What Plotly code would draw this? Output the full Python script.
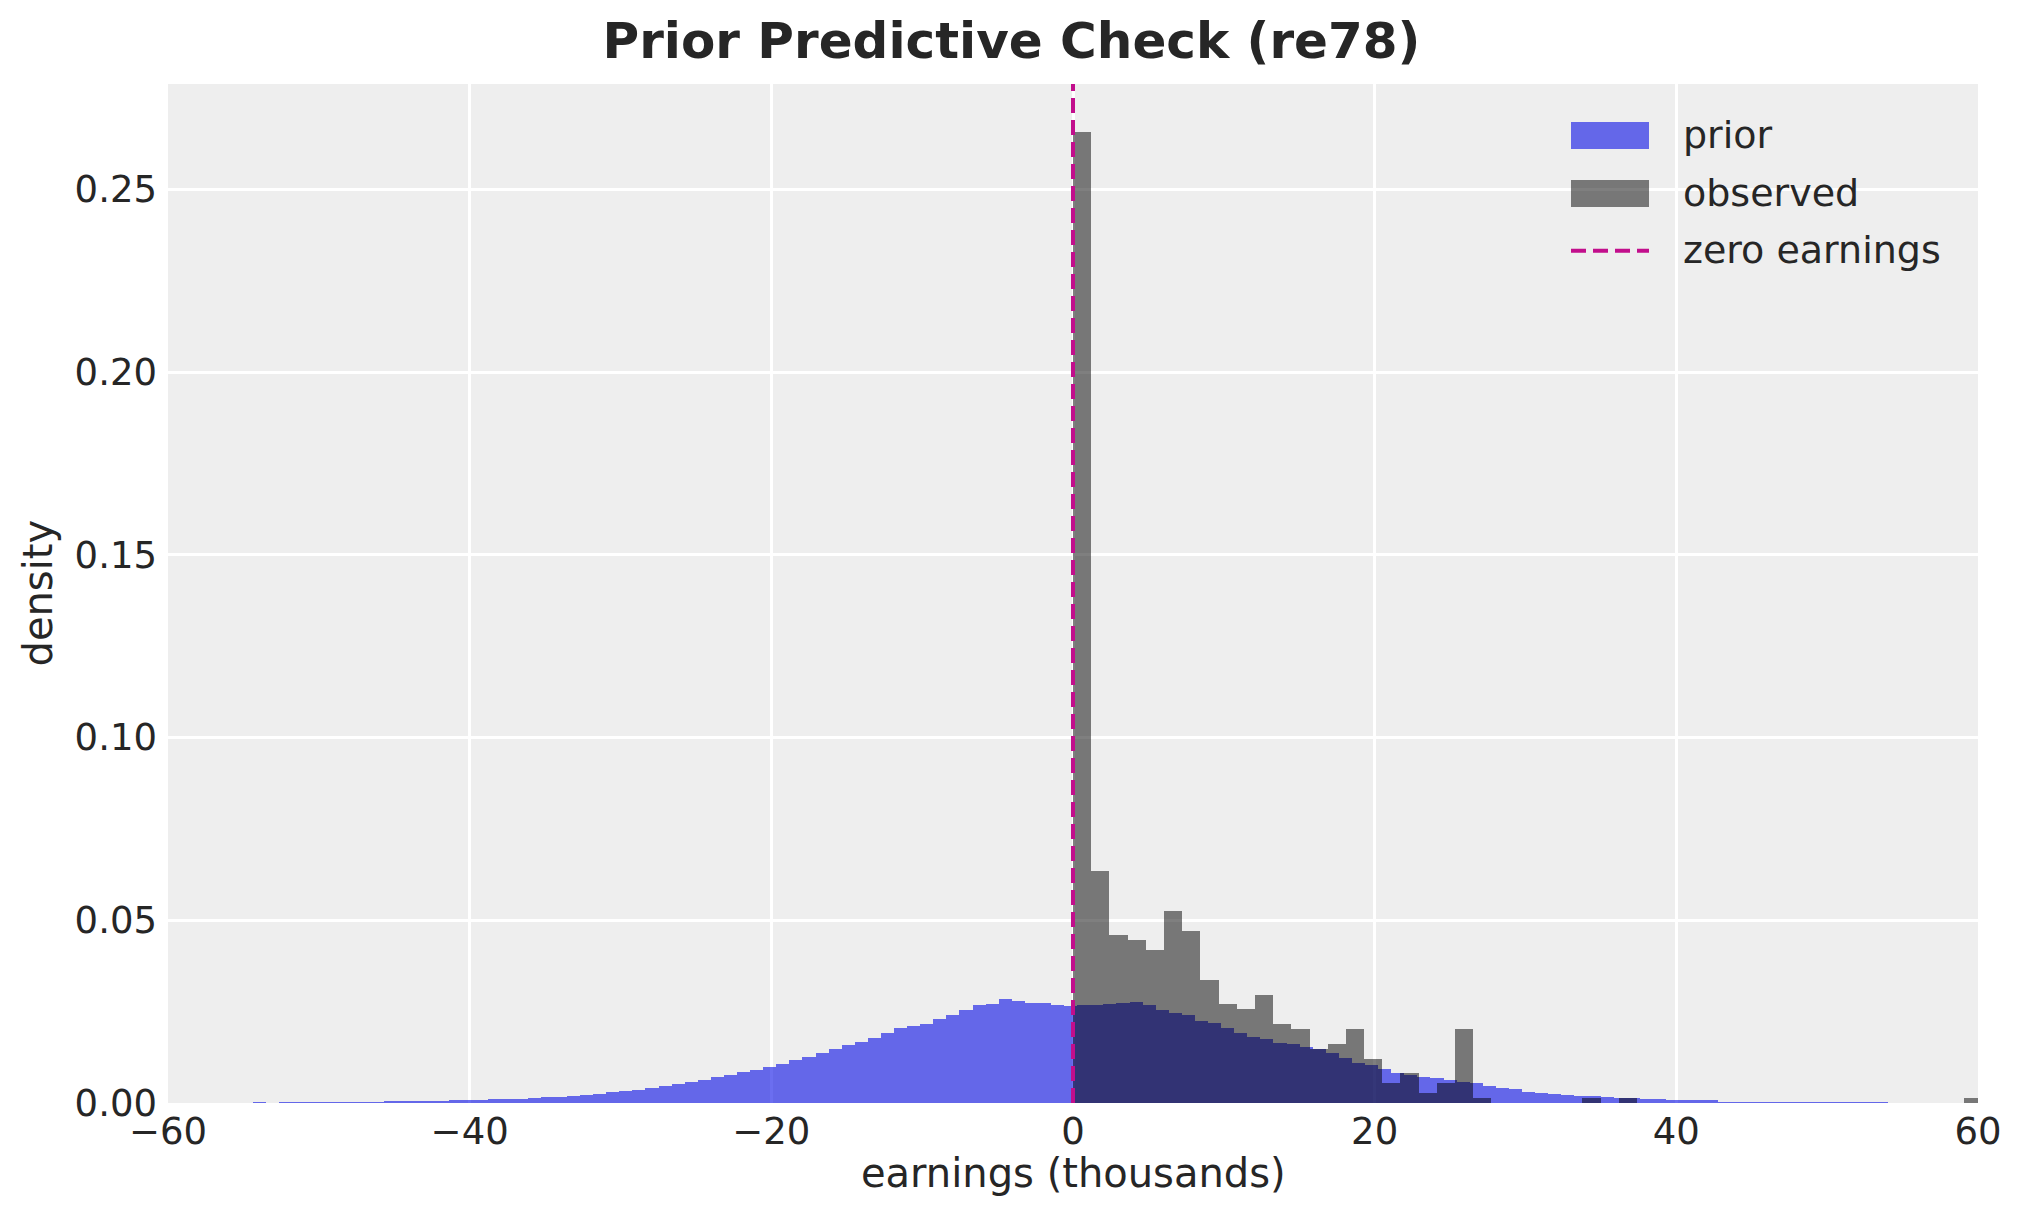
import numpy as np
import plotly.graph_objects as go

# ---------------- data ----------------
# prior predictive histogram: 125 bins of equal width
prior_bin_start = -54.37
prior_bin_width = 0.8674
prior_density = [
    0.0002, 0.0000, 0.0002, 0.0002, 0.0002, 0.0002, 0.0002, 0.0002, 0.0002, 0.0002,
    0.0005, 0.0005, 0.0005, 0.0005, 0.0005, 0.0008, 0.0008, 0.0008, 0.0011, 0.0011,
    0.0011,
    0.0014, 0.0016, 0.0016, 0.0019, 0.0022, 0.0025, 0.0030, 0.0033, 0.0036, 0.0041,
    0.0046, 0.0051, 0.0057, 0.0062, 0.0070, 0.0076, 0.0084, 0.0090, 0.0098, 0.0106,
    0.0117, 0.0125, 0.0136, 0.0147, 0.0158, 0.0166, 0.0177, 0.0191, 0.0204, 0.0210,
    0.0215, 0.0229, 0.0240, 0.0254, 0.0267, 0.0270, 0.0284, 0.0278, 0.0273, 0.0273,
    0.0267, 0.0265, 0.0267, 0.0267, 0.0270, 0.0273, 0.0276, 0.0267, 0.0254, 0.0246,
    0.0240, 0.0224, 0.0218, 0.0204, 0.0191, 0.0180, 0.0174, 0.0163, 0.0161, 0.0152,
    0.0147, 0.0136, 0.0122, 0.0109, 0.0103, 0.0092, 0.0081, 0.0076, 0.0070, 0.0068,
    0.0062, 0.0057, 0.0054, 0.0046, 0.0040, 0.0037, 0.0029, 0.0027, 0.0024, 0.0021,
    0.0018, 0.0018, 0.0016, 0.0013, 0.0013, 0.0010, 0.0010,
    0.0007, 0.0007, 0.0007, 0.0007,
    0.0004, 0.0004, 0.0004, 0.0004,
    0.0002, 0.0002, 0.0002, 0.0002, 0.0002, 0.0002, 0.0002, 0.0002, 0.0002,
]

# observed re78 histogram: 50 bins from 0 to the maximum earnings (counts)
obs_min = 0.0
obs_max = 60.308
obs_counts = [
    197, 47, 34, 33, 31, 39, 35, 25, 20, 19,
    22, 16, 15, 11, 12, 15, 9, 4, 6, 2,
    4, 15, 1, 0, 0, 0, 0, 0, 1, 0,
    1, 0, 0, 0, 0, 0, 0, 0, 0, 0,
    0, 0, 0, 0, 0, 0, 0, 0, 0, 1,
]

zero_earnings = 0.0

x_ticks = [-60, -40, -20, 0, 20, 40, 60]
y_ticks = [0.00, 0.05, 0.10, 0.15, 0.20, 0.25]
x_range = [-60, 60]
y_range = [0, 0.2788]

# ---------------- derived bar geometry ----------------
prior_density = np.array(prior_density)
n_prior = len(prior_density)
prior_edges = prior_bin_start + prior_bin_width * np.arange(n_prior + 1)
prior_centers = 0.5 * (prior_edges[:-1] + prior_edges[1:])

obs_counts = np.array(obs_counts, dtype=float)
n_obs_bins = len(obs_counts)
obs_width = (obs_max - obs_min) / n_obs_bins
obs_edges = obs_min + obs_width * np.arange(n_obs_bins + 1)
obs_centers = 0.5 * (obs_edges[:-1] + obs_edges[1:])
obs_density = obs_counts / (obs_counts.sum() * obs_width)

# ---------------- style ----------------
FONT = "DejaVu Sans"
TXT = "#262626"
PRIOR_COL = "rgba(0,5,230,0.58)"
OBS_COL = "rgba(0,0,0,0.5)"
ZERO_COL = "#C20E8C"
BG = "#EEEEEE"

OFF = 8                      # page body margin of the html page
W, H = 2023 - 2 * OFF, 1223 - 2 * OFF
# plot area in page pixels (reference): x 168..1978, y 84..1103
PX0, PX1, PY0, PY1 = 168, 1978, 84, 1103
L, T = PX0 - OFF, PY0 - OFF
R = W - (PX1 - OFF)
B = H - (PY1 - OFF)
pw, ph = PX1 - PX0, PY1 - PY0


def px(X):
    return (X - PX0) / pw


def py(Y):
    return (PY1 - Y) / ph


fig = go.Figure()
fig.add_trace(go.Bar(
    x=prior_centers, y=prior_density, width=prior_bin_width,
    marker=dict(color=PRIOR_COL, line=dict(width=0)),
    name="prior", showlegend=False, hoverinfo="skip",
))
fig.add_trace(go.Bar(
    x=obs_centers, y=obs_density, width=obs_width,
    marker=dict(color=OBS_COL, line=dict(width=0)),
    name="observed", showlegend=False, hoverinfo="skip",
))

shapes = [
    dict(type="line", xref="x", yref="paper", x0=zero_earnings, x1=zero_earnings,
         y0=0, y1=1, line=dict(color=ZERO_COL, width=4, dash="15px,7px"), layer="above"),
    # manual legend
    dict(type="rect", xref="paper", yref="paper", x0=px(1571), x1=px(1649),
         y0=py(149), y1=py(122), fillcolor=PRIOR_COL, line=dict(width=0), layer="above"),
    dict(type="rect", xref="paper", yref="paper", x0=px(1571), x1=px(1649),
         y0=py(207), y1=py(180), fillcolor=OBS_COL, line=dict(width=0), layer="above"),
    dict(type="line", xref="paper", yref="paper", x0=px(1571), x1=px(1649),
         y0=py(250.7), y1=py(250.7), line=dict(color=ZERO_COL, width=4, dash="15px,7px"),
         layer="above"),
]

legend_labels = ["prior", "observed", "zero earnings"]
legend_rows = [135.5, 193.5, 250.7]
annotations = []
for lab, yy in zip(legend_labels, legend_rows):
    annotations.append(dict(text=lab, xref="paper", yref="paper", x=px(1681), y=py(yy - 1),
                            xanchor="left", yanchor="middle", showarrow=False,
                            font=dict(family=FONT, size=38, color=TXT)))
annotations.append(dict(text="earnings (thousands)", xref="paper", yref="paper",
                        x=0.5, y=py(1173), xanchor="center", yanchor="middle",
                        showarrow=False, font=dict(family=FONT, size=40, color=TXT)))
annotations.append(dict(text="density", xref="paper", yref="paper",
                        x=px(37), y=0.5, xanchor="center", yanchor="middle", textangle=-90,
                        showarrow=False, font=dict(family=FONT, size=40, color=TXT)))

fig.update_layout(
    width=W, height=H,
    margin=dict(l=L, r=R, t=T, b=B, pad=0),
    paper_bgcolor="white", plot_bgcolor=BG,
    barmode="overlay", bargap=0,
    showlegend=False,
    title=dict(text="<b>Prior Predictive Check (re78)</b>", x=0.5, xanchor="center",
               xref="container", yref="container", y=1 - (40 - OFF) / H, yanchor="middle",
               font=dict(family=FONT, size=50, color=TXT)),
    font=dict(family=FONT, color=TXT),
    shapes=shapes, annotations=annotations,
    xaxis=dict(range=x_range, tickvals=x_ticks, showgrid=True, gridcolor="white",
               gridwidth=2.5, zeroline=False, showline=False, ticks="",
               tickfont=dict(family=FONT, size=37, color=TXT), ticklabelstandoff=3),
    yaxis=dict(range=y_range, tickvals=y_ticks, tickformat=".2f", showgrid=True,
               gridcolor="white", gridwidth=2.5, zeroline=False, showline=False, ticks="",
               tickfont=dict(family=FONT, size=37, color=TXT), ticklabelstandoff=10),
)

fig.write_html("out.html")
